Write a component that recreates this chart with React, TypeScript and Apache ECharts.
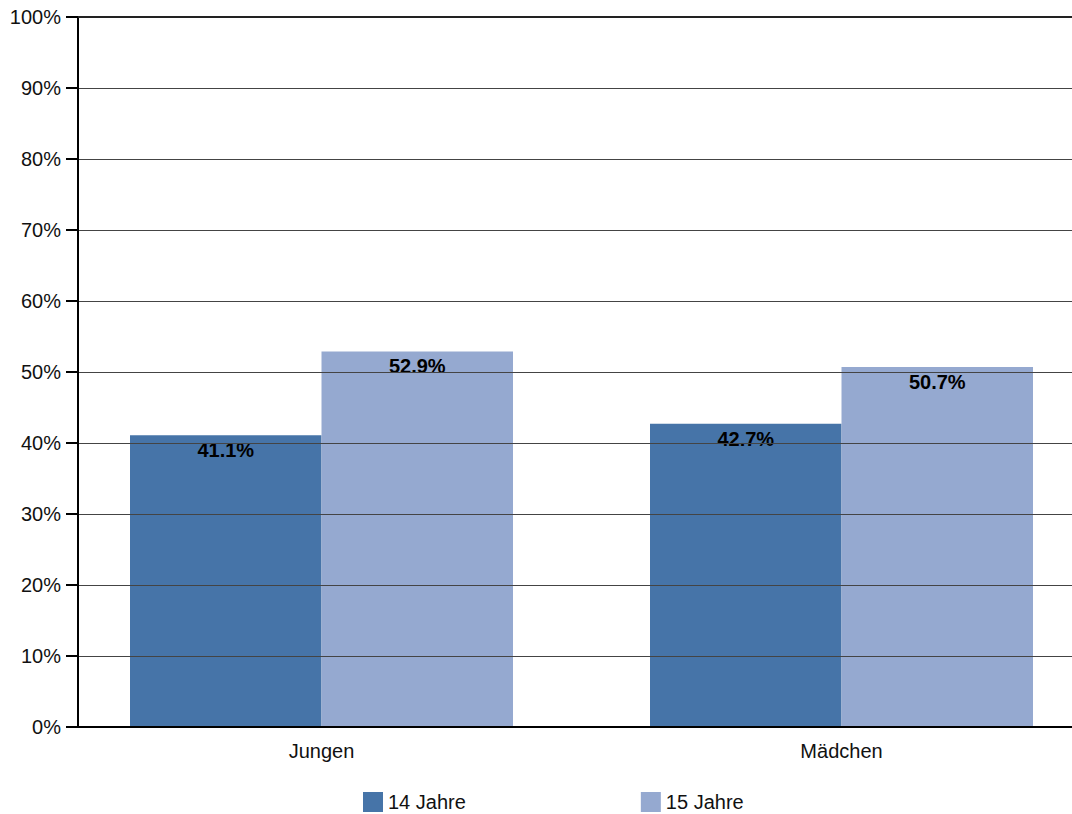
import React, { useEffect, useRef } from "react";
import * as echarts from "echarts";

const categories = ["Jungen", "Mädchen"];
const seriesNames = ["14 Jahre", "15 Jahre"];
const values14 = [41.1, 42.7];
const values15 = [52.9, 50.7];
const yTicks = [0, 10, 20, 30, 40, 50, 60, 70, 80, 90, 100];

const FONT = "'Liberation Sans', Arial, sans-serif";

export default function App() {
  const ref = useRef<HTMLDivElement>(null);
  useEffect(() => {
    if (!ref.current) return;
    const chart = echarts.init(ref.current, undefined, { renderer: "svg" });
    const labelStyle = {
      show: true,
      position: "insideTop",
      distance: 5,
      color: "#000",
      fontWeight: "bold",
      fontSize: 20,
      fontFamily: FONT,
      formatter: (p: any) => p.value.toFixed(1) + "%",
    };
    chart.setOption({
      animation: false,
      textStyle: { fontFamily: FONT },
      grid: [
        { left: 78, top: 17, right: 0, bottom: 87 },
        { left: 321.5, top: 17, right: 230.5, bottom: 87 },
      ],
      legend: {
        data: seriesNames,
        left: 363,
        top: 792,
        padding: 0,
        itemWidth: 20,
        itemHeight: 20,
        itemGap: 175,
        icon: "rect",
        textStyle: { fontSize: 20, lineHeight: 20, color: "#111", fontFamily: FONT },
      },
      xAxis: [
        {
          gridIndex: 0,
          type: "category",
          data: categories,
          position: "bottom",
          z: 10,
          axisLine: { show: true, lineStyle: { color: "#000", width: 2 } },
          axisTick: { show: false },
          axisLabel: { show: false },
        },
        {
          gridIndex: 0,
          type: "category",
          data: categories,
          position: "top",
          z: 10,
          axisLine: { show: true, lineStyle: { color: "#222", width: 2 } },
          axisTick: { show: false },
          axisLabel: { show: false },
        },
        {
          gridIndex: 1,
          type: "category",
          data: categories,
          boundaryGap: false,
          position: "bottom",
          axisLine: { show: false },
          axisTick: { show: false },
          axisLabel: {
            show: true,
            margin: 14,
            color: "#111",
            fontSize: 20,
            fontFamily: FONT,
          },
        },
      ],
      yAxis: [
        {
          gridIndex: 0,
          type: "value",
          min: yTicks[0],
          max: yTicks[yTicks.length - 1],
          interval: 10,
          z: 10,
          axisLine: { show: true, lineStyle: { color: "#000", width: 2 } },
          axisTick: { show: true, length: 12, lineStyle: { color: "#000", width: 2 } },
          axisLabel: {
            margin: 17,
            color: "#111",
            fontSize: 20,
            fontFamily: FONT,
            formatter: "{value}%",
          },
          splitLine: { show: true, lineStyle: { color: "#444", width: 1 } },
        },
        {
          gridIndex: 1,
          type: "value",
          min: yTicks[0],
          max: yTicks[yTicks.length - 1],
          show: false,
          splitLine: { show: false },
        },
      ],
      series: [
        {
          name: seriesNames[0],
          type: "bar",
          xAxisIndex: 2,
          yAxisIndex: 1,
          data: values14,
          barWidth: 191.5,
          barGap: "0%",
          clip: false,
          itemStyle: { color: "#4674A8" },
          label: labelStyle,
        },
        {
          name: seriesNames[1],
          type: "bar",
          xAxisIndex: 2,
          yAxisIndex: 1,
          data: values15,
          barWidth: 191.5,
          barGap: "0%",
          clip: false,
          itemStyle: { color: "#95A9D0" },
          label: labelStyle,
        },
      ],
    });
    return () => chart.dispose();
  }, []);
  return (
    <div
      ref={ref}
      style={{ position: "absolute", left: 0, top: 0, width: 1072, height: 814 }}
    />
  );
}
